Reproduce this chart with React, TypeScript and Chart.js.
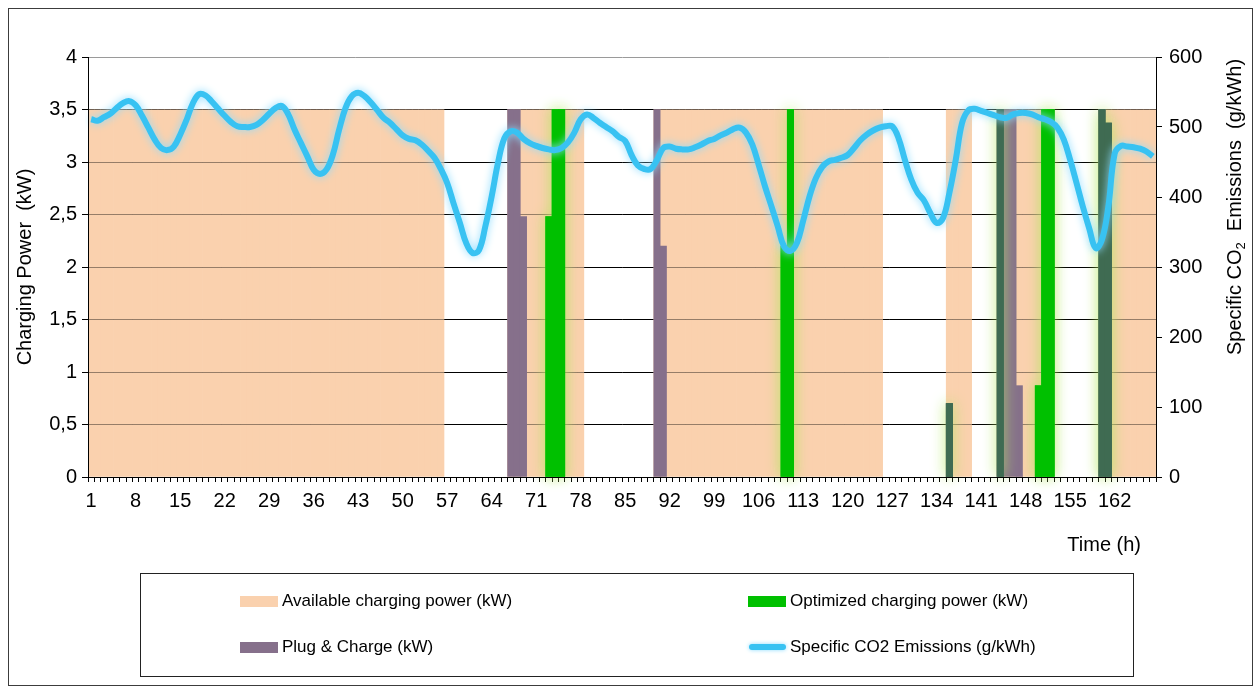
import React, { useEffect, useRef } from 'react';
import { Chart, registerables } from 'chart.js';

Chart.register(...registerables);

const FONT = '"Liberation Sans", Arial, Helvetica, sans-serif';

// Hours 1..168 (one week, hourly categories)
const HOURS: string[] = Array.from({ length: 168 }, (_, i) => String(i + 1));
const TICK_LABELS = ['1', '8', '15', '22', '29', '36', '43', '50', '57', '64', '71', '78', '85', '92', '99', '106', '113', '120', '127', '134', '141', '148', '155', '162'];
const LEFT_TICK_STEP = 0.5;
const RIGHT_TICK_STEP = 100;

// Available charging power (kW)
const AVAILABLE = [
  3.5, 3.5, 3.5, 3.5, 3.5, 3.5, 3.5, 3.5, 3.5, 3.5, 3.5, 3.5,
  3.5, 3.5, 3.5, 3.5, 3.5, 3.5, 3.5, 3.5, 3.5, 3.5, 3.5, 3.5,
  3.5, 3.5, 3.5, 3.5, 3.5, 3.5, 3.5, 3.5, 3.5, 3.5, 3.5, 3.5,
  3.5, 3.5, 3.5, 3.5, 3.5, 3.5, 3.5, 3.5, 3.5, 3.5, 3.5, 3.5,
  3.5, 3.5, 3.5, 3.5, 3.5, 3.5, 3.5, 3.5, 0, 0, 0, 0,
  0, 0, 0, 0, 0, 0, 3.5, 3.5, 3.5, 3.5, 3.5, 3.5,
  3.5, 3.5, 3.5, 3.5, 3.5, 3.5, 0, 0, 0, 0, 0, 0,
  0, 0, 0, 0, 0, 3.5, 3.5, 3.5, 3.5, 3.5, 3.5, 3.5,
  3.5, 3.5, 3.5, 3.5, 3.5, 3.5, 3.5, 3.5, 3.5, 3.5, 3.5, 3.5,
  3.5, 3.5, 3.5, 3.5, 3.5, 3.5, 3.5, 3.5, 3.5, 3.5, 3.5, 3.5,
  3.5, 3.5, 3.5, 3.5, 3.5, 0, 0, 0, 0, 0, 0, 0,
  0, 0, 0, 3.5, 3.5, 3.5, 3.5, 0, 0, 0, 0, 3.5,
  3.5, 3.5, 3.5, 3.5, 3.5, 3.5, 3.5, 3.5, 0, 0, 0, 0,
  0, 0, 0, 3.5, 3.5, 3.5, 3.5, 3.5, 3.5, 3.5, 3.5, 3.5,
];

// Plug & Charge (kW)
const PLUG_CHARGE = [
  0, 0, 0, 0, 0, 0, 0, 0, 0, 0, 0, 0,
  0, 0, 0, 0, 0, 0, 0, 0, 0, 0, 0, 0,
  0, 0, 0, 0, 0, 0, 0, 0, 0, 0, 0, 0,
  0, 0, 0, 0, 0, 0, 0, 0, 0, 0, 0, 0,
  0, 0, 0, 0, 0, 0, 0, 0, 0, 0, 0, 0,
  0, 0, 0, 0, 0, 0, 3.5, 3.5, 2.48, 0, 0, 0,
  0, 0, 0, 0, 0, 0, 0, 0, 0, 0, 0, 0,
  0, 0, 0, 0, 0, 3.5, 2.2, 0, 0, 0, 0, 0,
  0, 0, 0, 0, 0, 0, 0, 0, 0, 0, 0, 0,
  0, 0, 0, 0, 0, 0, 0, 0, 0, 0, 0, 0,
  0, 0, 0, 0, 0, 0, 0, 0, 0, 0, 0, 0,
  0, 0, 0, 0.7, 0, 0, 0, 0, 0, 0, 0, 3.5,
  3.5, 3.5, 0.87, 0, 0, 0, 0, 0, 0, 0, 0, 0,
  0, 0, 0, 3.5, 3.37, 0, 0, 0, 0, 0, 0, 0,
];

// Optimized charging power (kW)
const OPTIMIZED = [
  0, 0, 0, 0, 0, 0, 0, 0, 0, 0, 0, 0,
  0, 0, 0, 0, 0, 0, 0, 0, 0, 0, 0, 0,
  0, 0, 0, 0, 0, 0, 0, 0, 0, 0, 0, 0,
  0, 0, 0, 0, 0, 0, 0, 0, 0, 0, 0, 0,
  0, 0, 0, 0, 0, 0, 0, 0, 0, 0, 0, 0,
  0, 0, 0, 0, 0, 0, 0, 0, 0, 0, 0, 0,
  2.48, 3.5, 3.5, 0, 0, 0, 0, 0, 0, 0, 0, 0,
  0, 0, 0, 0, 0, 0, 0, 0, 0, 0, 0, 0,
  0, 0, 0, 0, 0, 0, 0, 0, 0, 0, 0, 0,
  0, 2.2, 3.5, 0, 0, 0, 0, 0, 0, 0, 0, 0,
  0, 0, 0, 0, 0, 0, 0, 0, 0, 0, 0, 0,
  0, 0, 0, 0.7, 0, 0, 0, 0, 0, 0, 0, 3.5,
  0, 0, 0, 0, 0, 0.87, 3.5, 3.5, 0, 0, 0, 0,
  0, 0, 0, 3.5, 3.37, 0, 0, 0, 0, 0, 0, 0,
];

// Specific CO2 emissions (g/kWh)
const CO2 = [
  511, 509, 514, 519, 527, 534, 537, 531, 516, 499, 482, 470,
  467, 472, 489, 510, 534, 547, 545, 536, 526, 516, 507, 501,
  500, 500, 503, 510, 519, 527, 530, 518, 496, 477, 458, 439,
  433, 439, 460, 496, 527, 544, 549, 544, 535, 524, 513, 506,
  497, 488, 483, 481, 475, 466, 456, 440, 420, 391, 363, 334,
  320, 324, 358, 401, 449, 484, 494, 492, 483, 477, 473, 470,
  468, 467, 470, 478, 492, 511, 518, 513, 506, 500, 494, 486,
  480, 460, 445, 440, 440, 453, 470, 472, 469, 468, 468, 471,
  475, 480, 483, 488, 492, 497, 499, 492, 475, 446, 415, 387,
  358, 329, 323, 334, 366, 401, 427, 443, 451, 453, 456, 460,
  470, 481, 489, 495, 499, 501, 501, 484, 453, 425, 406, 395,
  377, 363, 370, 406, 453, 506, 524, 526, 523, 520, 517, 514,
  513, 518, 520, 520, 518, 514, 511, 507, 499, 482, 453, 420,
  386, 355, 327, 339, 386, 462, 473, 472, 471, 469, 465, 458,
];

const COLOR_AVAILABLE = '#FAD1AE';
const COLOR_PLUG = '#86708B';
const COLOR_OPT = '#00C000';
const COLOR_BOTH = '#3F6B52';
const COLOR_CO2 = '#38C2F2';

const LEFT_TITLE = 'Charging Power  (kW)';
const X_TITLE = 'Time (h)';

const TICK_SET = new Set(TICK_LABELS);
const bars = (a: number[]) => a.map((v) => (v === 0 ? null : v));
const align = (p: number) => Math.round(p - 0.5) + 0.5;

const effectsPlugin = {
  id: 'effects',
  beforeDatasetDraw(chart: any, args: any) {
    const ctx = chart.ctx;
    if (args.index === 2) {
      // glow pass, then the normal crisp draw follows
      const meta = chart.getDatasetMeta(2);
      ctx.save();
      ctx.shadowColor = 'rgba(178,232,95,0.95)';
      ctx.shadowBlur = 14;
      meta.data.forEach((el: any) => {
        if (el && !el.skip && el.$context && el.$context.raw != null) el.draw(ctx);
      });
      ctx.restore();
    }
    if (args.index === 3) {
      ctx.save();
      ctx.shadowColor = 'rgba(140,220,255,1)';
      ctx.shadowBlur = 9;
    }
  },
  afterDatasetDraw(chart: any, args: any) {
    const ctx = chart.ctx;
    if (args.index === 3) ctx.restore();
    if (args.index === 0) {
      // grid lines showing through the pale "available" bars
      const { left, right } = chart.chartArea;
      const y = chart.scales.y;
      ctx.save();
      ctx.strokeStyle = 'rgba(0,0,0,0.4)';
      ctx.lineWidth = 1;
      y.ticks.forEach((t: any) => {
        if (t.value <= 0 || t.value >= 4) return;
        const py = align(y.getPixelForValue(t.value));
        ctx.beginPath();
        ctx.moveTo(left, py);
        ctx.lineTo(right, py);
        ctx.stroke();
      });
      ctx.restore();
    }
  },
  afterDatasetsDraw(chart: any) {
    const ctx = chart.ctx;
    const { left, right, top, bottom } = chart.chartArea;
    ctx.save();
    ctx.strokeStyle = '#000';
    ctx.lineWidth = 1;
    ctx.beginPath();
    ctx.moveTo(align(left), top);
    ctx.lineTo(align(left), bottom + 1);
    ctx.moveTo(align(right), top);
    ctx.lineTo(align(right), bottom + 1);
    ctx.moveTo(left, align(bottom));
    ctx.lineTo(right + 1, align(bottom));
    ctx.stroke();
    ctx.restore();
  },
};

const textPlugin = {
  id: 'texts',
  afterDraw(chart: any) {
    const ctx = chart.ctx;
    const { top, bottom } = chart.chartArea;
    const ds = chart.data.datasets;
    const main = `20px ${FONT}`;

    // outer frame
    ctx.save();
    ctx.strokeStyle = '#3c3c3c';
    ctx.lineWidth = 1;
    ctx.strokeRect(8.5, 8.5, 1244, 677);
    ctx.restore();

    // left axis title
    ctx.save();
    ctx.fillStyle = '#000';
    ctx.font = main;
    ctx.textAlign = 'center';
    ctx.textBaseline = 'middle';
    ctx.translate(25, (top + bottom) / 2);
    ctx.rotate(-Math.PI / 2);
    ctx.fillText(LEFT_TITLE, 0, 0);
    ctx.restore();

    // right axis title with subscript
    ctx.save();
    ctx.fillStyle = '#000';
    ctx.translate(1235, 207);
    ctx.rotate(-Math.PI / 2);
    ctx.textBaseline = 'middle';
    ctx.textAlign = 'left';
    const p1 = 'Specific CO';
    const p2 = '2';
    const p3 = '  Emissions  (g/kWh)';
    const sub = `13px ${FONT}`;
    ctx.font = main;
    const w1 = ctx.measureText(p1).width;
    const w3 = ctx.measureText(p3).width;
    ctx.font = sub;
    const w2 = ctx.measureText(p2).width;
    let x = -(w1 + w2 + w3) / 2;
    ctx.font = main;
    ctx.fillText(p1, x, 0);
    x += w1;
    ctx.font = sub;
    ctx.fillText(p2, x, 6);
    x += w2;
    ctx.font = main;
    ctx.fillText(p3, x, 0);
    ctx.restore();

    // x axis title
    ctx.save();
    ctx.fillStyle = '#000';
    ctx.font = main;
    ctx.textAlign = 'right';
    ctx.textBaseline = 'middle';
    ctx.fillText(X_TITLE, 1141, 545);
    ctx.restore();

    // legend box
    ctx.save();
    ctx.strokeStyle = '#222';
    ctx.lineWidth = 1;
    ctx.strokeRect(140.5, 573.5, 993, 103);
    ctx.font = `17px ${FONT}`;
    ctx.fillStyle = '#000';
    ctx.textBaseline = 'middle';
    ctx.textAlign = 'left';
    const items = [
      { i: 0, x: 240, y: 601 },
      { i: 2, x: 748, y: 601 },
      { i: 1, x: 240, y: 647 },
      { i: 3, x: 748, y: 647 },
    ];
    items.forEach(({ i, x: lx, y: ly }) => {
      const d = ds[i];
      if (i === 3) {
        ctx.save();
        ctx.strokeStyle = COLOR_CO2;
        ctx.lineWidth = 6;
        ctx.lineCap = 'round';
        ctx.shadowColor = 'rgba(140,220,255,1)';
        ctx.shadowBlur = 4;
        ctx.beginPath();
        ctx.moveTo(lx + 4, ly);
        ctx.lineTo(lx + 35, ly);
        ctx.stroke();
        ctx.restore();
      } else {
        ctx.fillStyle = i === 2 ? COLOR_OPT : (d.backgroundColor as string);
        ctx.fillRect(lx, ly - 5, 38, 11);
      }
      ctx.fillStyle = '#000';
      ctx.fillText(d.label, lx + 42, ly);
    });
    ctx.restore();
  },
};

export default function App() {
  const ref = useRef<HTMLCanvasElement>(null);

  useEffect(() => {
    const canvas = ref.current;
    if (!canvas) return;
    Chart.defaults.font.family = FONT;
    const tickFont = { size: 20, family: FONT };
    const chart = new Chart(canvas, {
      type: 'bar',
      data: {
        labels: HOURS,
        datasets: [
          {
            type: 'bar',
            label: 'Available charging power (kW)',
            data: bars(AVAILABLE),
            backgroundColor: COLOR_AVAILABLE,
            yAxisID: 'y',
            order: 3,
          },
          {
            type: 'bar',
            label: 'Plug & Charge (kW)',
            data: bars(PLUG_CHARGE),
            backgroundColor: COLOR_PLUG,
            yAxisID: 'y',
            order: 2,
          },
          {
            type: 'bar',
            label: 'Optimized charging power (kW)',
            data: bars(OPTIMIZED),
            backgroundColor: OPTIMIZED.map((_, i) => (PLUG_CHARGE[i] > 0 ? COLOR_BOTH : COLOR_OPT)),
            yAxisID: 'y',
            order: 1,
          },
          {
            type: 'line',
            label: 'Specific CO2 Emissions (g/kWh)',
            data: CO2,
            yAxisID: 'y1',
            borderColor: COLOR_CO2,
            backgroundColor: COLOR_CO2,
            borderWidth: 6,
            pointRadius: 0,
            tension: 0.4,
            fill: false,
            order: 0,
          },
        ] as any,
      },
      options: {
        responsive: false,
        animation: false,
        events: [],
        layout: { padding: { left: 8, right: 8, top: 57, bottom: 0 } },
        datasets: {
          bar: { barPercentage: 1, categoryPercentage: 1, grouped: false, borderWidth: 0 } as any,
        },
        plugins: { legend: { display: false }, tooltip: { enabled: false }, title: { display: false } },
        scales: {
          x: {
            type: 'category',
            offset: true,
            grid: { offset: true, drawOnChartArea: false, drawTicks: true, tickLength: 5, color: '#000', tickColor: '#000' },
            border: { display: true, color: '#000' },
            ticks: {
              autoSkip: false,
              maxRotation: 0,
              minRotation: 0,
              padding: 7,
              color: '#000',
              font: tickFont,
              callback: (_v: any, index: number) => (TICK_SET.has(HOURS[index]) ? HOURS[index] : ''),
            },
            afterFit: (s: any) => {
              s.height = 212;
            },
          },
          y: {
            position: 'left',
            min: 0,
            max: 4,
            ticks: {
              stepSize: LEFT_TICK_STEP,
              padding: 5,
              color: '#000',
              font: tickFont,
              callback: (v: any) => String(v).replace('.', ','),
            },
            grid: {
              color: (c: any) => (c.tick && c.tick.value === 4 ? '#9a9a9a' : '#000'),
              tickColor: '#000',
              tickLength: 6,
              drawTicks: true,
            },
            border: { display: true, color: '#000' },
            afterFit: (s: any) => {
              s.width = 80;
            },
          },
          y1: {
            position: 'right',
            min: 0,
            max: 600,
            ticks: { stepSize: RIGHT_TICK_STEP, padding: 7, color: '#000', font: tickFont },
            grid: { drawOnChartArea: false, drawTicks: true, tickLength: 6, color: '#000', tickColor: '#000' },
            border: { display: true, color: '#000' },
            afterFit: (s: any) => {
              s.width = 94;
            },
          },
        },
      } as any,
      plugins: [effectsPlugin, textPlugin],
    });
    return () => chart.destroy();
  }, []);

  return (
    <div style={{ position: 'fixed', left: 0, top: 0, width: 1258, height: 689, background: '#fff' }}>
      <canvas ref={ref} width={1258} height={689} style={{ display: 'block', width: 1258, height: 689 }} />
    </div>
  );
}
